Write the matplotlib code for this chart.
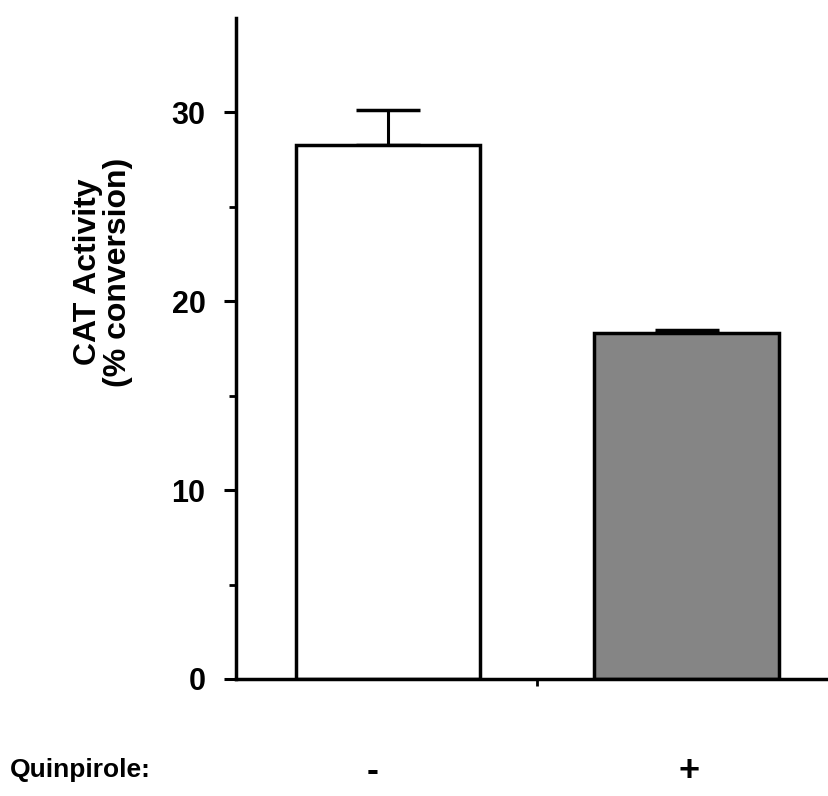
#!/usr/bin/env python3

import matplotlib
matplotlib.use("Agg")
import matplotlib.pyplot as plt

# data
groups  = ["-", "+"]
cat_act = [28.25, 18.3]
sem     = [1.9, 0.2]

plt.rcParams['font.family'] = ['Liberation Sans', 'DejaVu Sans']
plt.rcParams['font.weight'] = 'bold'

fig = plt.figure(figsize=(8.29, 7.96), dpi=100)
ax = fig.add_axes([236 / 829, 1 - 679 / 796, 1 - 236 / 829, (679 - 18) / 796])

x_pos = [0, 1]
colors = ["white", "#858585"]
ax.bar(x_pos, cat_act, width=0.617, color=colors, edgecolor="black",
       linewidth=2.5, zorder=2)
# only the upper half of the error bar is drawn
ax.errorbar(x_pos, cat_act, yerr=[[0, 0], sem], fmt="none", ecolor="black",
            elinewidth=2.2, capsize=23, capthick=2.5, zorder=1)

ax.set_xlim(-0.509, 1.477)
ax.set_ylim(0, 35)
ax.set_yticks([0, 10, 20, 30])
ax.set_yticks([5, 15, 25], minor=True)
ax.set_xticks([0.5])
ax.set_xticklabels([""])
ax.tick_params(axis="y", which="major", length=9, width=2.2, labelsize=22, pad=13)
ax.tick_params(axis="y", which="minor", length=5, width=2)
ax.tick_params(axis="x", length=5, width=2)

for s in ["top", "right"]:
    ax.spines[s].set_visible(False)
ax.spines["left"].set_linewidth(2.5)
ax.spines["bottom"].set_linewidth(2.5)

fig.text(0.124, 0.658, "CAT Activity\n(% conversion)", rotation=90,
         ha="center", va="center", fontsize=23, fontweight="bold",
         linespacing=1.0)

fig.text(10 / 829, 1 - 770 / 796, "Quinpirole:", ha="left", va="center",
         fontsize=19, fontweight="bold")
# the sign labels sit a little left of the bar centres
label_x = [x - 0.05 for x in x_pos[:1]] + [x + 0.01 for x in x_pos[1:]]
for xp, g in zip(label_x, groups):
    ax.text(xp, -92 / 661, g, transform=ax.get_xaxis_transform(),
            ha="center", va="center", fontsize=26, fontweight="bold")

fig.savefig("out.png", dpi=100)
